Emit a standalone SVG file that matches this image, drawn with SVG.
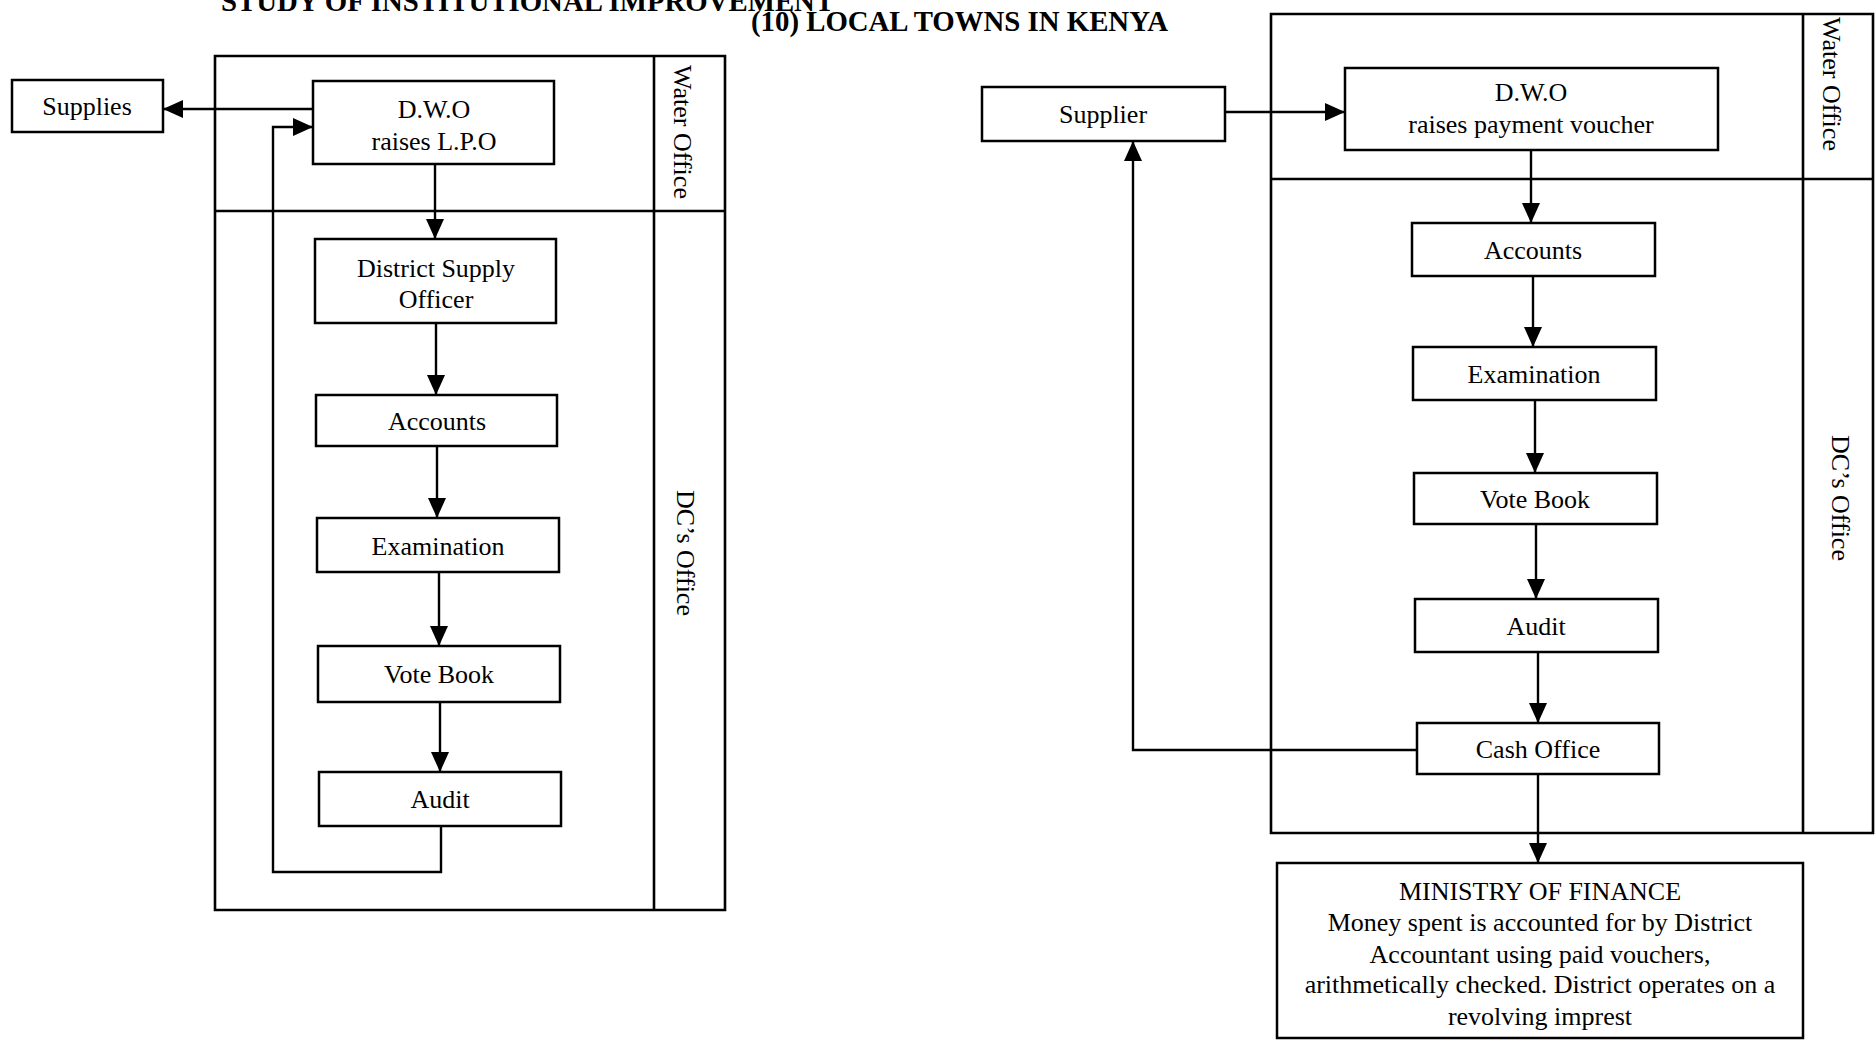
<svg xmlns="http://www.w3.org/2000/svg" width="1876" height="1041" viewBox="0 0 1876 1041">
<defs>
<marker id="ah" viewBox="0 0 20 18" refX="20" refY="9" markerWidth="20" markerHeight="18" markerUnits="userSpaceOnUse" orient="auto">
<path d="M0,0 L20,9 L0,18 Z" fill="#000"/>
</marker>
<style>
.bx{fill:#fff;stroke:#000;stroke-width:2.5}
.fr{fill:none;stroke:#000;stroke-width:2.6}
.t{font-family:"Liberation Serif","Times New Roman",serif;font-size:26px;fill:#000;text-anchor:middle;dominant-baseline:central}
.ttl{font-family:"Liberation Serif","Times New Roman",serif;font-size:28.8px;font-weight:bold;fill:#000}
.ca{fill:none;stroke:#000;stroke-width:2.4;marker-end:url(#ah)}
</style>
</defs>
<rect width="1876" height="1041" fill="#fff"/>
<g id="title">
<text class="ttl" x="221" y="11">STUDY OF INSTITUTIONAL IMPROVEMENT</text>
<text class="ttl" x="751" y="31">(10) LOCAL TOWNS IN KENYA</text>
</g>
<g id="frames">
<path class="fr" d="M215,56 H725 V910 H215 Z M654,56 V910 M215,211 H725"/>
<path class="fr" d="M1271,14 H1873 V833 H1271 Z M1803,14 V833 M1271,179 H1873"/>
<text class="t" transform="translate(682,132) rotate(90)">Water Office</text>
<text class="t" transform="translate(685,553) rotate(90)">DC’s Office</text>
<text class="t" transform="translate(1831,84) rotate(90)">Water Office</text>
<text class="t" transform="translate(1840,498) rotate(90)">DC’s Office</text>
</g>
<g id="connectors">
<path class="ca" d="M313,109 H163"/>
<path class="ca" d="M435,164 V239"/>
<path class="ca" d="M436,323 V395"/>
<path class="ca" d="M437,446 V518"/>
<path class="ca" d="M439,572 V646"/>
<path class="ca" d="M440,702 V772"/>
<path class="ca" d="M441,826 V872 H273 V127 H313"/>
<path class="ca" d="M1225,112 H1345"/>
<path class="ca" d="M1531,150 V223"/>
<path class="ca" d="M1533,276 V347"/>
<path class="ca" d="M1535,400 V473"/>
<path class="ca" d="M1536,524 V599"/>
<path class="ca" d="M1538,652 V723"/>
<path class="ca" d="M1538,774 V863"/>
<path class="ca" d="M1417,750 H1133 V141"/>
</g>
<g id="supplies"><rect class="bx" x="12" y="80" width="151" height="52"/><text class="t" x="87" y="106">Supplies</text></g>
<g id="dwo-lpo"><rect class="bx" x="313" y="81" width="241" height="83"/><text class="t" x="434" y="109">D.W.O</text><text class="t" x="434" y="141">raises L.P.O</text></g>
<g id="dso"><rect class="bx" x="315" y="239" width="241" height="84"/><text class="t" x="436" y="268">District Supply</text><text class="t" x="436" y="299">Officer</text></g>
<g id="accounts-l"><rect class="bx" x="316" y="395" width="241" height="51"/><text class="t" x="437" y="421">Accounts</text></g>
<g id="exam-l"><rect class="bx" x="317" y="518" width="242" height="54"/><text class="t" x="438" y="546">Examination</text></g>
<g id="vote-l"><rect class="bx" x="318" y="646" width="242" height="56"/><text class="t" x="439" y="674">Vote Book</text></g>
<g id="audit-l"><rect class="bx" x="319" y="772" width="242" height="54"/><text class="t" x="440" y="799">Audit</text></g>
<g id="supplier"><rect class="bx" x="982" y="87" width="243" height="54"/><text class="t" x="1103" y="114">Supplier</text></g>
<g id="dwo-pv"><rect class="bx" x="1345" y="68" width="373" height="82"/><text class="t" x="1531" y="92">D.W.O</text><text class="t" x="1531" y="124">raises payment voucher</text></g>
<g id="accounts-r"><rect class="bx" x="1412" y="223" width="243" height="53"/><text class="t" x="1533" y="250">Accounts</text></g>
<g id="exam-r"><rect class="bx" x="1413" y="347" width="243" height="53"/><text class="t" x="1534" y="374">Examination</text></g>
<g id="vote-r"><rect class="bx" x="1414" y="473" width="243" height="51"/><text class="t" x="1535" y="499">Vote Book</text></g>
<g id="audit-r"><rect class="bx" x="1415" y="599" width="243" height="53"/><text class="t" x="1536" y="626">Audit</text></g>
<g id="cash"><rect class="bx" x="1417" y="723" width="242" height="51"/><text class="t" x="1538" y="749">Cash Office</text></g>
<g id="ministry"><rect class="bx" x="1277" y="863" width="526" height="175"/>
<text class="t" x="1540" y="891">MINISTRY OF FINANCE</text>
<text class="t" x="1540" y="922">Money spent is accounted for by District</text>
<text class="t" x="1540" y="954">Accountant using paid vouchers,</text>
<text class="t" x="1540" y="984">arithmetically checked. District operates on a</text>
<text class="t" x="1540" y="1016">revolving imprest</text>
</g>
</svg>
